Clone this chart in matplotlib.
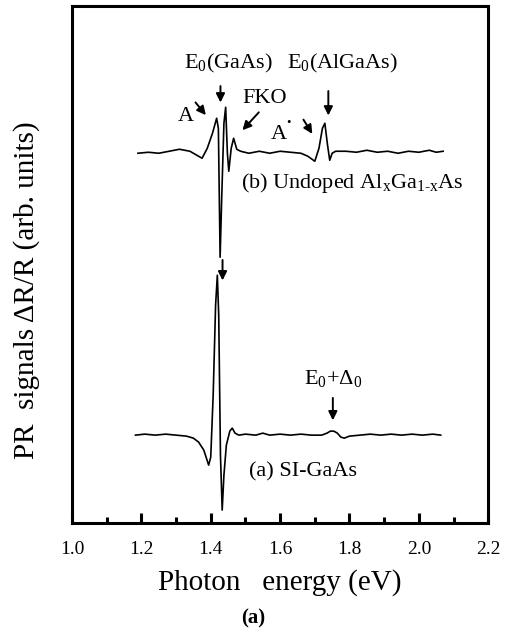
import matplotlib
matplotlib.use("Agg")
import matplotlib.pyplot as plt

plt.rcParams['font.family'] = ['Liberation Serif', 'DejaVu Serif']
plt.rcParams['mathtext.fontset'] = 'custom'
plt.rcParams['mathtext.rm'] = 'Liberation Serif'
plt.rcParams['mathtext.it'] = 'Liberation Serif:italic'

# (a) SI-GaAs : photon energy (eV) and PR signal (arb. units, baseline 0)
energy_a = [1.183, 1.21, 1.24, 1.27, 1.30, 1.33, 1.35, 1.365, 1.38, 1.394,
            1.400, 1.407, 1.414, 1.419, 1.423, 1.428, 1.433, 1.438, 1.445,
            1.455, 1.462, 1.470, 1.481, 1.50, 1.53, 1.55, 1.57, 1.60, 1.63,
            1.66, 1.69, 1.72, 1.735, 1.745, 1.755, 1.765, 1.775, 1.785, 1.80,
            1.83, 1.86, 1.89, 1.92, 1.95, 1.98, 2.01, 2.04, 2.063]
signal_a = [0.00, 0.01, 0.00, 0.01, 0.00, -0.01, -0.03, -0.07, -0.15, -0.30,
            -0.22, 0.40, 1.30, 1.60, 1.20, -0.20, -0.75, -0.40, -0.10,
            0.04, 0.07, 0.02, 0.00, 0.01, 0.00, 0.02, 0.00, 0.01, 0.00,
            0.01, 0.00, 0.00, 0.02, 0.04, 0.04, 0.02, -0.02, -0.03, -0.01,
            0.00, 0.01, 0.00, 0.01, 0.00, 0.01, 0.00, 0.01, 0.00]

# (b) undoped AlGaAs
energy_b = [1.19, 1.22, 1.25, 1.28, 1.31, 1.34, 1.36, 1.375, 1.39, 1.405,
            1.417, 1.422, 1.427, 1.432, 1.438, 1.443, 1.448, 1.452, 1.459,
            1.466, 1.475, 1.486, 1.51, 1.54, 1.57, 1.60, 1.63, 1.66, 1.68,
            1.70, 1.712, 1.722, 1.729, 1.736, 1.743, 1.75, 1.76, 1.79, 1.82,
            1.85, 1.88, 1.91, 1.94, 1.97, 2.00, 2.03, 2.05, 2.07]
signal_b = [0.00, 0.01, 0.00, 0.02, 0.04, 0.02, -0.02, -0.05, 0.05, 0.20,
            0.35, 0.25, -1.04, -0.40, 0.30, 0.46, 0.00, -0.18, 0.05,
            0.15, 0.04, 0.02, 0.00, 0.02, 0.00, 0.02, 0.01, 0.00, -0.03,
            -0.08, 0.05, 0.25, 0.30, 0.10, -0.07, 0.00, 0.02, 0.02, 0.01,
            0.03, 0.01, 0.02, 0.00, 0.02, 0.01, 0.03, 0.01, 0.02]

offset_a = 0.88
offset_b = 3.70

fig = plt.figure(figsize=(5.07, 6.31), dpi=100)
ax = fig.add_axes([0.142, 0.171, 0.821, 0.819])

ax.plot(energy_a, [s + offset_a for s in signal_a], 'k-', lw=1.2)
ax.plot(energy_b, [s + offset_b for s in signal_b], 'k-', lw=1.2)

ax.set_xlim(1.0, 2.2)
ax.set_ylim(0, 5.17)
ax.set_xticks([1.0, 1.2, 1.4, 1.6, 1.8, 2.0, 2.2])
ax.set_xticklabels(['1.0', '1.2', '1.4', '1.6', '1.8', '2.0', '2.2'])
ax.set_xticks([1.1, 1.3, 1.5, 1.7, 1.9, 2.1], minor=True)
ax.set_yticks([])
ax.tick_params(axis='x', which='major', direction='in', length=7, width=2.2,
               labelsize=14, pad=13)
ax.tick_params(axis='x', which='minor', direction='in', length=4, width=2.2)
for sp in ax.spines.values():
    sp.set_linewidth(2.2)

ax.set_xlabel('Photon   energy (eV)', fontsize=21, labelpad=8)
ax.set_ylabel('PR  signals \u0394R/R (arb. units)', fontsize=21)
ax.yaxis.set_label_coords(-0.077, 0.45)
fig.text(0.5, 0.012, '(a)', fontsize=15, fontweight='bold', ha='center')

arrow = dict(arrowstyle='-|>', color='k', lw=1.4, mutation_scale=13)
fs = 16

ax.text(1.452, 4.60, 'E$_\\mathregular{0}$(GaAs)', fontsize=fs, ha='center', va='center')
ax.annotate('', xy=(1.428, 4.18), xytext=(1.428, 4.40), arrowprops=arrow)

ax.text(1.781, 4.60, 'E$_\\mathregular{0}$(AlGaAs)', fontsize=fs, ha='center', va='center')
ax.annotate('', xy=(1.739, 4.05), xytext=(1.739, 4.35), arrowprops=arrow)

ax.text(1.556, 4.25, 'FKO', fontsize=fs, ha='center', va='center')
ax.annotate('', xy=(1.486, 3.91), xytext=(1.544, 4.13), arrowprops=arrow)

ax.text(1.328, 4.07, 'A', fontsize=fs, ha='center', va='center')
ax.annotate('', xy=(1.391, 4.06), xytext=(1.351, 4.23), arrowprops=arrow)

ax.text(1.597, 3.89, 'A', fontsize=fs, ha='center', va='center')
ax.text(1.623, 4.00, '\u2022', fontsize=9, ha='center', va='center')
ax.annotate('', xy=(1.697, 3.87), xytext=(1.663, 4.06), arrowprops=arrow)

ax.text(1.486, 3.40, '(b) Undoped Al$_\\mathregular{x}$Ga$_\\mathregular{1\u2010x}$As',
        fontsize=fs, ha='left', va='center')

ax.annotate('', xy=(1.434, 2.40), xytext=(1.434, 2.66), arrowprops=arrow)

ax.text(1.752, 1.45, 'E$_\\mathregular{0}$+\u0394$_\\mathregular{0}$', fontsize=fs,
        ha='center', va='center')
ax.annotate('', xy=(1.752, 1.00), xytext=(1.752, 1.28), arrowprops=arrow)

ax.text(1.509, 0.51, '(a) SI-GaAs', fontsize=fs, ha='left', va='center')

fig.savefig('out.png', dpi=100)
